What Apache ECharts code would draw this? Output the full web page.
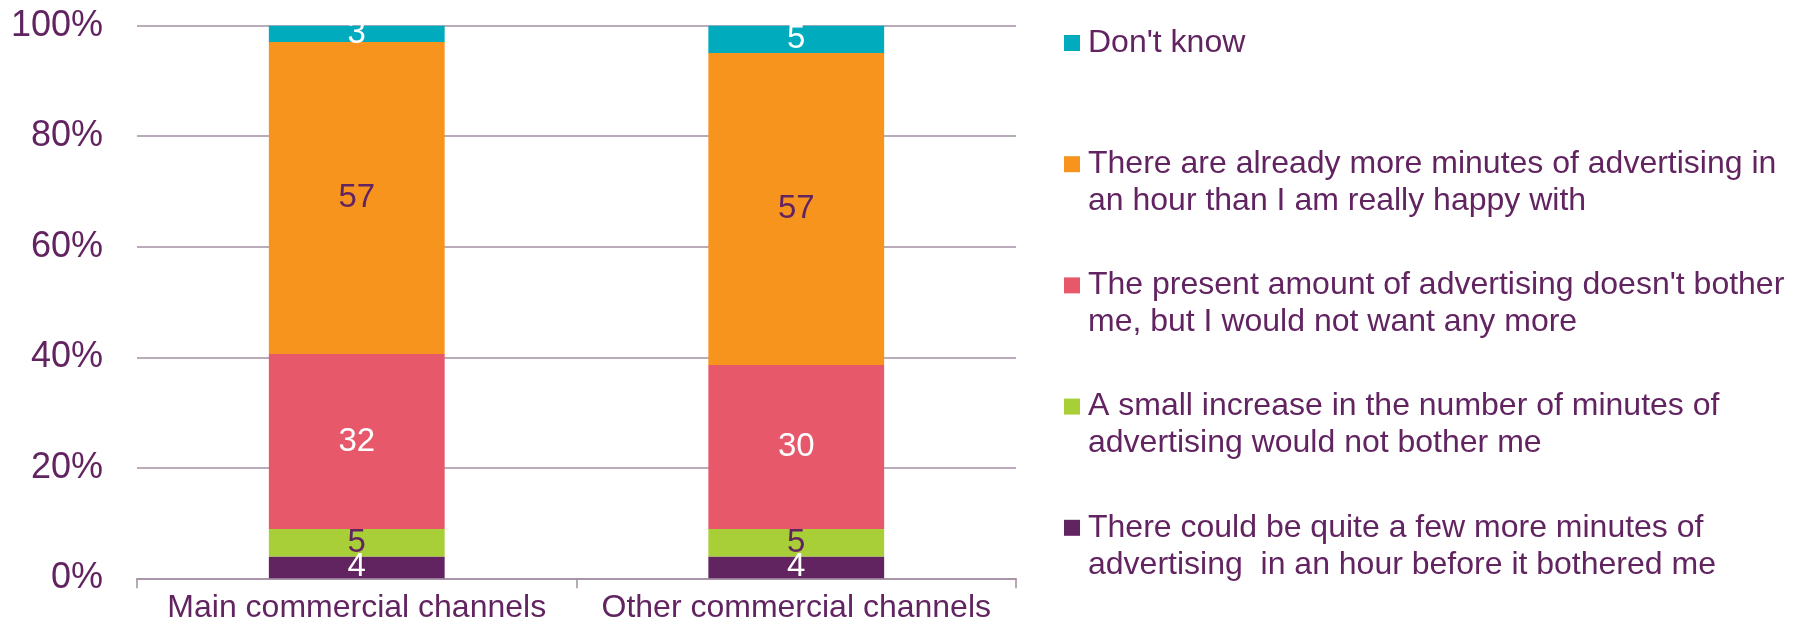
<!DOCTYPE html>
<html>
<head>
<meta charset="utf-8">
<script src="https://cdn.jsdelivr.net/npm/echarts@6/dist/echarts.min.js"></script>
<style>
  html, body { margin: 0; padding: 0; background: #ffffff; }
  #chart { width: 1802px; height: 621px; }
</style>
</head>
<body>
<div id="chart"></div>
<script>
// Survey responses per channel group, counted from the bottom of each bar upward
const categories = ['Main commercial channels', 'Other commercial channels'];

const couldBeMore   = [4, 4];
const smallIncrease = [5, 5];
const presentAmount = [32, 30];
const alreadyMore   = [57, 57];
const dontKnow      = [3, 5];

const seriesNames = [
  'There could be quite a few more minutes of advertising  in an hour before it bothered me',
  'A small increase in the number of minutes of advertising would not bother me',
  "The present amount of advertising doesn't bother me, but I would not want any more",
  'There are already more minutes of advertising in an hour than I am really happy with',
  "Don't know"
];

// Legend wording, broken into lines
const legendLines = [
  ['There could be quite a few more minutes of', 'advertising  in an hour before it bothered me'],
  ['A small increase in the number of minutes of', 'advertising would not bother me'],
  ["The present amount of advertising doesn't bother", 'me, but I would not want any more'],
  ['There are already more minutes of advertising in', 'an hour than I am really happy with'],
  ["Don't know"]
];

const seriesValues = [couldBeMore, smallIncrease, presentAmount, alreadyMore, dontKnow];
const seriesColors = ['#622461', '#A8CF38', '#E6586A', '#F7941E', '#00ABBE'];
const labelColors  = ['#ffffff', '#622461', '#ffffff', '#622461', '#ffffff'];

const TEXT = '#622461';
const GRID = '#A28FA2';
const FONT = 'Arial, "Liberation Sans", sans-serif';
const LINE_H = 37;

// Each bar is shown as a share of its own total (100% stacked)
const totals = categories.map((_, i) => seriesValues.reduce((s, arr) => s + arr[i], 0));

const series = seriesValues.map((arr, k) => ({
  name: seriesNames[k],
  type: 'bar',
  stack: 'total',
  barWidth: '40%',
  itemStyle: { color: seriesColors[k] },
  label: {
    show: true,
    position: 'inside',
    color: labelColors[k],
    fontSize: 33,
    fontFamily: FONT,
    formatter: p => String(p.data.raw)
  },
  emphasis: { disabled: true },
  data: arr.map((v, i) => ({ value: v / totals[i] * 100, raw: v }))
}));

// Legend runs from the top series down; a blank spacer line keeps each
// marker level with the first line of its text.
const legendOrder = [4, 3, 2, 1, 0];
const legendText = {};
seriesNames.forEach((n, k) => {
  const lines = legendLines[k];
  legendText[n] = lines.length > 1
    ? '{s| }\n' + lines.join('\n')
    : '{s| }\n' + lines[0] + '\n{s| }';
});

const chart = echarts.init(document.getElementById('chart'), null, { renderer: 'canvas' });
chart.setOption({
  animation: false,
  backgroundColor: '#ffffff',
  grid: {
    left: 137, right: 786, top: 25.7, bottom: 42.7,
    containLabel: false, outerBoundsMode: 'none'
  },
  xAxis: {
    type: 'category',
    data: categories,
    axisLine: { show: true, lineStyle: { color: GRID, width: 1.5 } },
    axisTick: { show: true, length: 10, lineStyle: { color: GRID, width: 1.5 } },
    axisLabel: { color: TEXT, fontSize: 32, fontFamily: FONT, margin: 14, interval: 0 }
  },
  yAxis: {
    type: 'value',
    min: 0,
    max: 100,
    interval: 20,
    axisLine: { show: false },
    axisTick: { show: false },
    splitLine: { show: true, lineStyle: { color: GRID, width: 1.5 } },
    axisLabel: { color: TEXT, fontSize: 36, fontFamily: FONT, margin: 34, formatter: '{value}%' }
  },
  legend: {
    orient: 'vertical',
    left: 1064,
    top: -12.5,
    padding: 0,
    itemGap: 10.2,
    itemWidth: 16,
    itemHeight: 16,
    icon: 'rect',
    selectedMode: false,
    data: legendOrder.map(k => seriesNames[k]),
    formatter: name => legendText[name],
    textStyle: {
      color: TEXT, fontSize: 32, lineHeight: LINE_H, fontFamily: FONT, padding: [0, 0, 0, 3],
      rich: { s: { fontSize: 32, lineHeight: LINE_H, fontFamily: FONT } }
    }
  },
  series: series
});
</script>
</body>
</html>
